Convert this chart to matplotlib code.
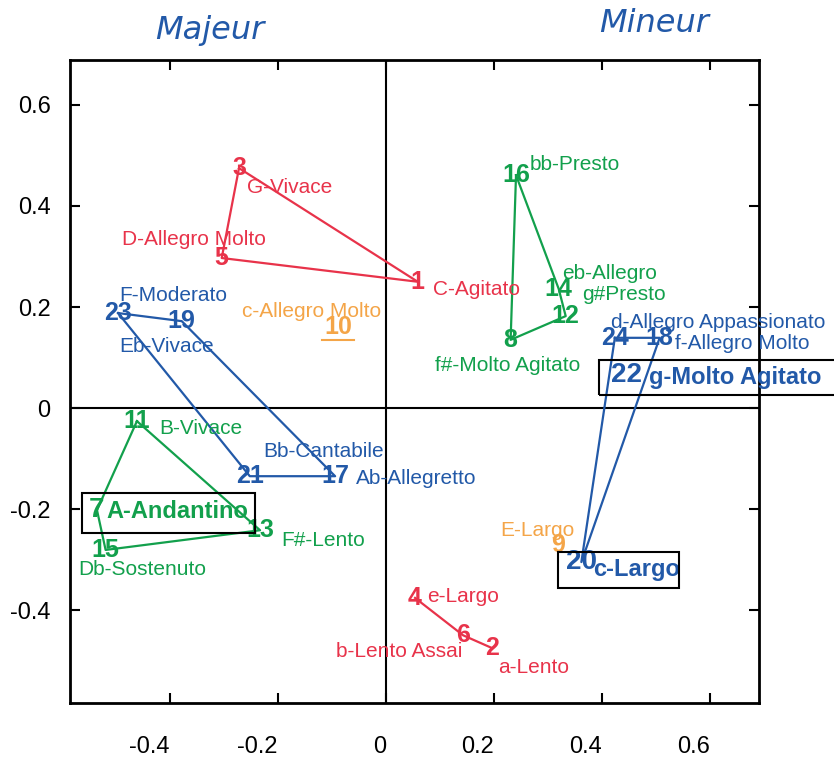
import matplotlib
matplotlib.use("Agg")
import matplotlib.pyplot as plt
from matplotlib.patches import Rectangle

plt.rcParams['font.family'] = ['Liberation Sans', 'DejaVu Sans']

# preludes: number, point, name, colour group
nums = list(range(1, 25))
px = [0.059, 0.196, -0.272, 0.054, -0.304, 0.143, -0.535, 0.231, 0.319, -0.089,
      -0.461, 0.333, -0.233, 0.320, -0.519, 0.241, -0.094, 0.507, -0.378, 0.362,
      -0.252, 0.446, -0.496, 0.424]
py = [0.250, -0.475, 0.475, -0.376, 0.297, -0.450, -0.202, 0.135, -0.271, 0.160,
      -0.026, 0.182, -0.242, 0.236, -0.281, 0.461, -0.135, 0.139, 0.172, -0.305,
      -0.135, 0.065, 0.188, 0.139]
names = ['C-Agitato', 'a-Lento', 'G-Vivace', 'e-Largo', 'D-Allegro Molto', 'b-Lento Assai',
         'A-Andantino', 'f#-Molto Agitato', 'E-Largo', 'c-Allegro Molto', 'B-Vivace', 'g#Presto',
         'F#-Lento', 'eb-Allegro', 'Db-Sostenuto', 'bb-Presto', 'Ab-Allegretto', 'f-Allegro Molto',
         'Eb-Vivace', 'c-Largo', 'Bb-Cantabile', 'g-Molto Agitato', 'F-Moderato',
         'd-Allegro Appassionato']
groups = ['r', 'r', 'r', 'r', 'r', 'r', 'g', 'g', 'o', 'o', 'g', 'g',
          'g', 'g', 'g', 'g', 'b', 'b', 'b', 'b', 'b', 'b', 'b', 'b']
# where each name is written (left edge, centre line)
lx = [0.087, 0.207, -0.257, 0.076, -0.489, -0.093, -0.517, 0.091, 0.211, -0.267, -0.420, 0.363,
      -0.194, 0.326, -0.569, 0.267, -0.056, 0.535, -0.494, 0.383, -0.228, 0.487, -0.494, 0.417]
ly = [0.234, -0.513, 0.436, -0.374, 0.333, -0.483, -0.204, 0.085, -0.242, 0.192, -0.040, 0.224,
      -0.263, 0.267, -0.319, 0.483, -0.139, 0.127, 0.121, -0.319, -0.087, 0.061, 0.222, 0.170]
highlight = [7, 20, 22]

# polygons joining the preludes
paths = [[3, 5, 1, 3], [4, 6, 2], [16, 8, 12, 14, 16], [11, 7, 15, 13, 11],
         [23, 19, 17, 21, 23], [24, 18, 20, 24]]

colors = {'r': '#e8334a', 'g': '#12a04c', 'o': '#f4a548', 'b': '#2259a8'}

fig = plt.figure(figsize=(8.34, 7.58), dpi=100)
ax = fig.add_axes([0.0839, 0.0726, 0.8262, 0.8482])
ax.set_xlim(-0.585, 0.691)
ax.set_ylim(-0.584, 0.689)

ax.axhline(0, color='black', lw=1.5, zorder=1)
ax.axvline(0, color='black', lw=1.5, zorder=1)

for p in paths:
    c = colors[groups[p[0] - 1]]
    ax.plot([px[n - 1] for n in p], [py[n - 1] for n in p], color=c, lw=1.6, zorder=2)

for i, n in enumerate(nums):
    c = colors[groups[i]]
    big = n in highlight
    ax.text(px[i], py[i], str(n), color=c, fontsize=20 if big else 18, fontweight='bold',
            ha='center', va='center', zorder=3)
    ax.text(lx[i], ly[i], names[i], color=c, fontsize=17 if big else 15,
            fontweight='bold' if big else 'normal', ha='left', va='center',
            clip_on=False, zorder=3)

# underline under 10
ax.plot([px[9] - 0.030, px[9] + 0.030], [py[9] - 0.025] * 2, color=colors['o'], lw=1.5)

# boxes around highlighted preludes
boxes = [(-0.563, -0.248, 0.320, 0.080), (0.394, 0.026, 0.500, 0.069), (0.319, -0.356, 0.224, 0.071)]
for bx, by, bw, bh in boxes:
    ax.add_patch(Rectangle((bx, by), bw, bh, fill=False, ec='black', lw=1.5,
                           clip_on=False, zorder=4))

ticks = [-0.4, -0.2, 0, 0.2, 0.4, 0.6]
labels = ['-0.4', '-0.2', '0', '0.2', '0.4', '0.6']
ax.set_xticks(ticks, labels)
ax.set_yticks(ticks, labels)
for t in ax.get_xticklabels():
    t.set_ha('right')
ax.tick_params(direction='in', length=7, width=1.5, top=True, right=True, labelsize=17)
ax.tick_params(axis='x', pad=24)
ax.tick_params(axis='y', pad=14)
for s in ax.spines.values():
    s.set_linewidth(2)

fig.text(210 / 834, 1 - 30 / 758, 'Majeur', fontsize=23, style='italic', color='#2259a8',
         family='DejaVu Sans', ha='center', va='center')
fig.text(654 / 834, 1 - 24 / 758, 'Mineur', fontsize=23, style='italic', color='#2259a8',
         family='DejaVu Sans', ha='center', va='center')

fig.savefig('out.png', dpi=100)
